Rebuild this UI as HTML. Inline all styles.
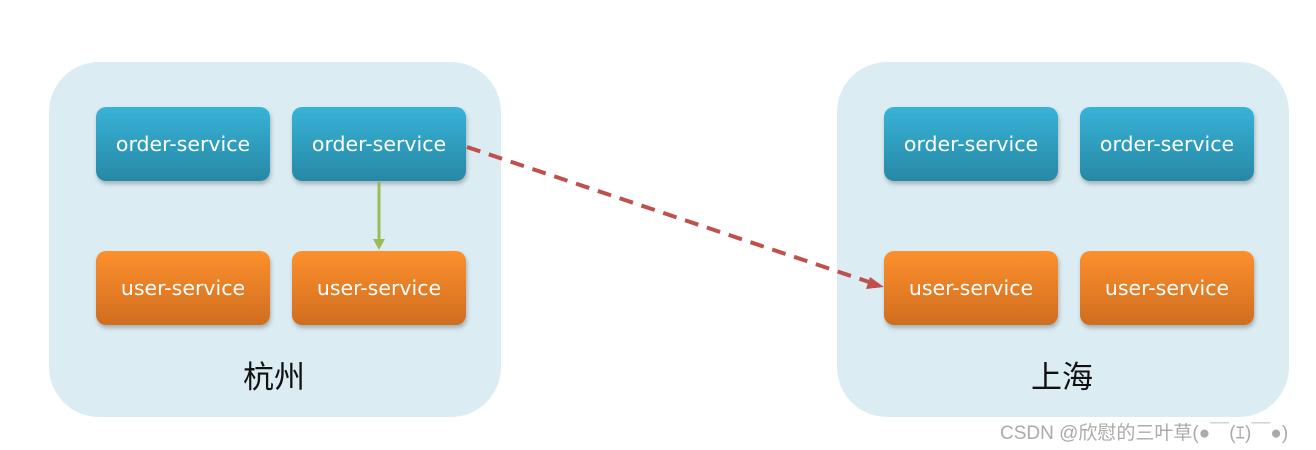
<!DOCTYPE html>
<html><head><meta charset="utf-8"><style>
body{margin:0;width:1316px;height:450px;background:#fff;position:relative;overflow:hidden;font-family:"Liberation Sans","Noto Sans CJK SC",sans-serif}
.c{position:absolute;background:#dbedf3;border-radius:50px;top:62px;height:355px;width:452px}
.b{position:absolute;width:174px;height:74px;border-radius:10px;color:#fff;font-size:20.5px;font-family:"DejaVu Sans",sans-serif;display:flex;align-items:center;justify-content:center;box-shadow:1px 3px 4px rgba(0,0,0,.25)}
.o{background:linear-gradient(#38b3d8,#2788a5)}
.u{background:linear-gradient(#fd902c,#d06d1f)}
.l{position:absolute;font-size:31px;color:#111;font-family:"Noto Sans CJK SC",sans-serif}
.w{position:absolute;left:1000px;top:418px;font-size:19px;color:#aaa;font-family:"Liberation Sans","Noto Sans CJK SC",sans-serif}
</style></head><body>
<div class="c" style="left:49px"></div>
<div class="c" style="left:837px"></div>
<div class="b o" style="left:96px;top:107px">order-service</div>
<div class="b o" style="left:292px;top:107px">order-service</div>
<div class="b u" style="left:96px;top:251px">user-service</div>
<div class="b u" style="left:292px;top:251px">user-service</div>
<div class="b o" style="left:884px;top:107px">order-service</div>
<div class="b o" style="left:1080px;top:107px">order-service</div>
<div class="b u" style="left:884px;top:251px">user-service</div>
<div class="b u" style="left:1080px;top:251px">user-service</div>
<div class="l" style="left:243px;top:352px">杭州</div>
<div class="l" style="left:1031px;top:352px">上海</div>
<svg style="position:absolute;left:0;top:0" width="1316" height="450">
<line x1="379" y1="182" x2="379" y2="240" stroke="#9bbb59" stroke-width="3"/>
<polygon points="373,239 385,239 379,250" fill="#9bbb59"/>
<line x1="467" y1="147" x2="872" y2="283" stroke="#c0504d" stroke-width="4" stroke-dasharray="14,9"/>
<polygon points="870,277 866,289 884,287" fill="#c0504d"/>
</svg>
<div class="w">CSDN @欣慰的三叶草(●￣(ｴ)￣●)</div>
</body></html>
